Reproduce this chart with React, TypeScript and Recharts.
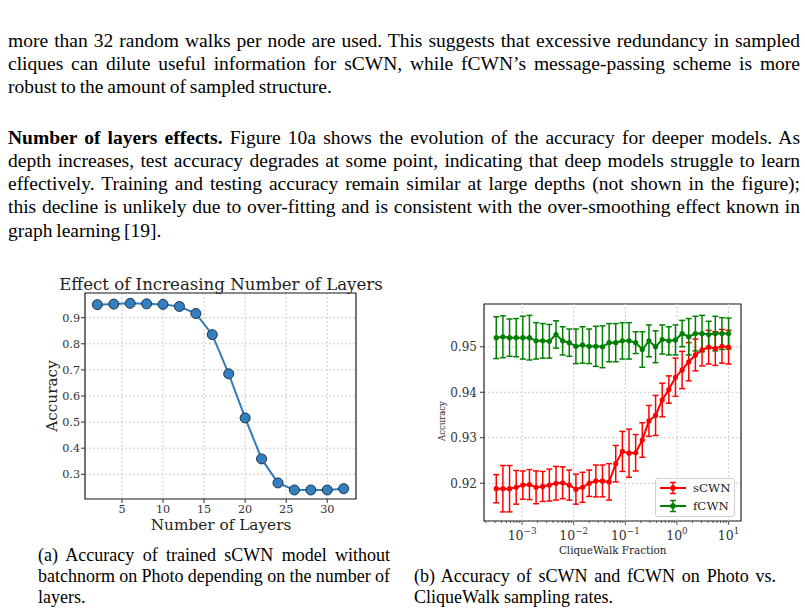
import { LineChart, Line, XAxis, YAxis, CartesianGrid, ErrorBar, ReferenceArea, ReferenceLine } from 'recharts';

// (a) accuracy vs number of layers
const layers = [2, 4, 6, 8, 10, 12, 14, 16, 18, 20, 22, 24, 26, 28, 30, 32];
const layerAcc = [0.950, 0.952, 0.955, 0.953, 0.951, 0.943, 0.916, 0.835, 0.685, 0.516, 0.359, 0.267, 0.240, 0.240, 0.240, 0.245];
const layerTicksX = [5, 10, 15, 20, 25, 30];
const layerTicksY = [0.3, 0.4, 0.5, 0.6, 0.7, 0.8, 0.9];

// (b) accuracy vs CliqueWalk fraction
const fractions = [
  0.0003162, 0.0004251, 0.0005715, 0.0007683, 0.001033, 0.001389, 0.001868, 0.002512, 0.003377,
  0.00454, 0.006105, 0.008209, 0.01104, 0.01484, 0.01995, 0.02683, 0.03607, 0.0485, 0.06521,
  0.08767, 0.1179, 0.1585, 0.2131, 0.2865, 0.3852, 0.5179, 0.6963, 0.9363, 1.259, 1.693, 2.276,
  3.06, 4.114, 5.532, 7.437, 10,
];
const sAcc = [
  0.9188, 0.9188, 0.9188, 0.9191, 0.9196, 0.9197, 0.9191, 0.9193, 0.9196, 0.92, 0.9201, 0.9196,
  0.9187, 0.9191, 0.92, 0.9205, 0.9205, 0.9203, 0.9243, 0.927, 0.9266, 0.9267, 0.9295, 0.9337,
  0.9349, 0.9383, 0.9406, 0.9433, 0.9449, 0.9467, 0.9482, 0.9493, 0.9499, 0.9496, 0.9501, 0.9499,
];
const sErr = [
  0.0031, 0.0051, 0.0051, 0.0037, 0.0031, 0.0033, 0.0036, 0.0033, 0.0035, 0.0037, 0.0035, 0.0033,
  0.0033, 0.0033, 0.0029, 0.0035, 0.0035, 0.004, 0.004, 0.0044, 0.0053, 0.004, 0.0038, 0.0034,
  0.0044, 0.0037, 0.003, 0.0042, 0.0041, 0.0042, 0.0035, 0.0035, 0.0037, 0.0037, 0.0037, 0.0037,
];
const fAcc = [
  0.952, 0.9522, 0.952, 0.952, 0.952, 0.952, 0.9513, 0.9513, 0.9512, 0.9527, 0.9513, 0.9509,
  0.9501, 0.9504, 0.9501, 0.9501, 0.95, 0.9509, 0.9509, 0.9513, 0.9513, 0.9509, 0.9494, 0.9513,
  0.95, 0.9516, 0.9513, 0.9515, 0.9529, 0.9522, 0.9529, 0.9529, 0.9527, 0.9529, 0.9529, 0.9529,
];
const fErr = [
  0.0046, 0.0046, 0.0041, 0.0042, 0.0047, 0.0049, 0.004, 0.0038, 0.0037, 0.003, 0.0031, 0.003,
  0.0038, 0.004, 0.0038, 0.0044, 0.0046, 0.0042, 0.0042, 0.004, 0.004, 0.0024, 0.0039, 0.0035,
  0.0035, 0.0032, 0.0031, 0.0033, 0.0029, 0.004, 0.0038, 0.004, 0.0029, 0.0038, 0.0035, 0.0034,
];
const fracMajor = [0.001, 0.01, 0.1, 1, 10];
const fracMinor = [
  0.0002, 0.0003, 0.0004, 0.0005, 0.0006, 0.0007, 0.0008, 0.0009,
  0.002, 0.003, 0.004, 0.005, 0.006, 0.007, 0.008, 0.009,
  0.02, 0.03, 0.04, 0.05, 0.06, 0.07, 0.08, 0.09,
  0.2, 0.3, 0.4, 0.5, 0.6, 0.7, 0.8, 0.9,
  2, 3, 4, 5, 6, 7, 8, 9,
];
const accTicks = [0.92, 0.93, 0.94, 0.95];

const layerRows = layers.map((l, i) => ({ layers: l, acc: layerAcc[i] }));
const fracRows = fractions.map((f, i) => ({ frac: f, s: sAcc[i], sErr: sErr[i], f: fAcc[i], fErr: fErr[i] }));

const mpl = '"DejaVu Serif", serif';
const times = '"Liberation Serif", "Times New Roman", serif';

const layerX: [number, number] = [0.5, 33.5];
const layerY: [number, number] = [0.2054, 0.9946];
const fracX: [number, number] = [0.000183, 17.4];
const fracY: [number, number] = [0.9117, 0.9594];

const para1 = [
  'more than 32 random walks per node are used. This suggests that excessive redundancy in sampled',
  'cliques can dilute useful information for sCWN, while fCWN’s message-passing scheme is more',
  'robust to the amount of sampled structure.',
];
const para2 = [
  'Figure 10a shows the evolution of the accuracy for deeper models. As',
  'depth increases, test accuracy degrades at some point, indicating that deep models struggle to learn',
  'effectively. Training and testing accuracy remain similar at large depths (not shown in the figure);',
  'this decline is unlikely due to over-fitting and is consistent with the over-smoothing effect known in',
  'graph learning [19].',
];
const capA = [
  '(a) Accuracy of trained sCWN model without',
  'batchnorm on Photo depending on the number of',
  'layers.',
];
const capB = ['(b) Accuracy of sCWN and fCWN on Photo vs.', 'CliqueWalk sampling rates.'];

const LogTick = (props: any) => {
  const { x, y, payload } = props;
  const v = payload.value;
  const e = Math.round(Math.log10(v));
  const major = Math.abs(Math.log10(v) - e) < 1e-6;
  return (
    <g>
      <line x1={x} x2={x} y1={y} y2={y + (major ? 4 : 2)} stroke="#333" strokeWidth={0.8} />
      {major && (
        <text x={x} y={y + 19} textAnchor="middle" fontSize={12.5} fontFamily={mpl} fill="#333">
          10
          <tspan dy={-6} fontSize={8.8}>{e < 0 ? '−' + -e : String(e)}</tspan>
        </text>
      )}
    </g>
  );
};

const lineStyle = (last: boolean, justify: boolean): any => ({
  whiteSpace: 'nowrap',
  textAlign: 'justify',
  textAlignLast: justify && !last ? 'justify' : 'left',
});

const Lines = ({ lines, top, left, width, size, lh, justifyAll, ws }: any) => (
  <div style={{ position: 'absolute', top, left, width, fontFamily: times, fontSize: size, lineHeight: lh + 'px', wordSpacing: ws, color: '#000' }}>
    {lines.map((t: any, i: number) => (
      <div key={i} style={{ ...lineStyle(i === lines.length - 1, justifyAll), height: lh }}>
        {t}
      </div>
    ))}
  </div>
);

const LegendItem = ({ color, label, top }: any) => (
  <div style={{ position: 'absolute', left: 3, top, height: 14, display: 'flex', alignItems: 'center' }}>
    <svg width={28} height={14}>
      <line x1={1} x2={27} y1={7} y2={7} stroke={color} strokeWidth={2} />
      <line x1={14} x2={14} y1={1.5} y2={12.5} stroke={color} strokeWidth={1.5} />
      <line x1={11} x2={17} y1={1.5} y2={1.5} stroke={color} strokeWidth={1.5} />
      <line x1={11} x2={17} y1={12.5} y2={12.5} stroke={color} strokeWidth={1.5} />
      <circle cx={14} cy={7} r={2.8} fill={color} />
    </svg>
    <span style={{ marginLeft: 6, fontFamily: mpl, fontSize: 11.8, color: '#222' }}>{label}</span>
  </div>
);

export default function App() {
  return (
    <div style={{ position: 'absolute', left: 0, top: 0, width: 805, height: 614, background: '#fff', overflow: 'hidden' }}>
      <Lines lines={para1} top={28.5} left={8} width={792} size={19.5} lh={23.33} justifyAll ws="-1px" />
      <div style={{ position: 'absolute', top: 125.5, left: 8, width: 792, fontFamily: times, fontSize: 19.5, lineHeight: '23.33px', wordSpacing: '-1px' }}>
        <div style={{ ...lineStyle(false, true), height: 23.33 }}>
          <b>Number of layers effects.</b> {para2[0]}
        </div>
        {para2.slice(1).map((t, i) => (
          <div key={i} style={{ ...lineStyle(i === para2.length - 2, true), height: 23.33 }}>
            {t}
          </div>
        ))}
      </div>

      {/* (a) */}
      <div style={{ position: 'absolute', left: 221, top: 284, transform: 'translate(-50%, -50%)', fontFamily: mpl, fontSize: 16.6, whiteSpace: 'nowrap', color: '#222' }}>
        Effect of Increasing Number of Layers
      </div>
      <div style={{ position: 'absolute', left: 52, top: 396, transform: 'translate(-50%, -50%) rotate(-90deg)', fontFamily: mpl, fontSize: 15.3, whiteSpace: 'nowrap', color: '#222' }}>
        Accuracy
      </div>
      <div style={{ position: 'absolute', left: 221, top: 525, transform: 'translate(-50%, -50%)', fontFamily: mpl, fontSize: 15.3, whiteSpace: 'nowrap', color: '#222' }}>
        Number of Layers
      </div>
      <div style={{ position: 'absolute', left: 0, top: 270 }}>
        <LineChart width={400} height={290} data={layerRows} margin={{ top: 23, right: 44, bottom: 0, left: 0 }}>
          <CartesianGrid stroke="#cdcdcd" strokeDasharray="2 2" />
          <XAxis
            dataKey="layers"
            type="number"
            domain={layerX}
            ticks={layerTicksX}
            allowDataOverflow
            axisLine={false}
            tickLine={{ stroke: '#333' }}
            tickSize={4}
            tickMargin={2}
            height={61}
            tick={{ fontSize: 11.2, fill: '#333', fontFamily: mpl }}
          />
          <YAxis
            type="number"
            domain={layerY}
            ticks={layerTicksY}
            allowDataOverflow
            tickFormatter={(v: number) => v.toFixed(1)}
            axisLine={false}
            tickLine={{ stroke: '#333' }}
            tickSize={4}
            tickMargin={1}
            width={85}
            tick={{ fontSize: 11.2, fill: '#333', fontFamily: mpl }}
          />
          <Line
            dataKey="acc"
            type="linear"
            stroke="#2f7dbd"
            strokeWidth={2}
            dot={{ r: 5, fill: '#3480bf', stroke: '#1e324a', strokeWidth: 1 }}
            isAnimationActive={false}
          />
          <ReferenceArea x1={layerX[0]} x2={layerX[1]} y1={layerY[0]} y2={layerY[1]} fill="none" stroke="#222" strokeWidth={1.2} ifOverflow="visible" />
        </LineChart>
      </div>

      {/* (b) */}
      <div style={{ position: 'absolute', left: 441.7, top: 421, transform: 'translate(-50%, -50%) rotate(-90deg)', fontFamily: mpl, fontSize: 8.5, whiteSpace: 'nowrap', color: '#222' }}>
        Accuracy
      </div>
      <div style={{ position: 'absolute', left: 612.7, top: 549.5, transform: 'translate(-50%, -50%)', fontFamily: mpl, fontSize: 10.4, whiteSpace: 'nowrap', color: '#222' }}>
        CliqueWalk Fraction
      </div>
      <div style={{ position: 'absolute', left: 420, top: 290 }}>
        <LineChart width={380} height={270} data={fracRows} margin={{ top: 14, right: 59, bottom: 0, left: 0 }}>
          <CartesianGrid stroke="#cdcdcd" strokeDasharray="2 2" vertical={false} />
          {fracMajor.map((v) => (
            <ReferenceLine key={v} x={v} stroke="#cdcdcd" strokeDasharray="2 2" />
          ))}
          <XAxis
            dataKey="frac"
            type="number"
            scale="log"
            domain={fracX}
            ticks={[...fracMajor, ...fracMinor]}
            allowDataOverflow
            axisLine={false}
            tickLine={false}
            tickSize={0}
            tickMargin={0}
            height={39}
            interval={0}
            tick={<LogTick />}
          />
          <YAxis
            type="number"
            domain={fracY}
            ticks={accTicks}
            allowDataOverflow
            tickFormatter={(v: number) => v.toFixed(2)}
            axisLine={false}
            tickLine={{ stroke: '#333' }}
            tickSize={4}
            tickMargin={3}
            width={64}
            tick={{ fontSize: 12, fill: '#333', fontFamily: mpl }}
          />
          <Line dataKey="s" type="linear" stroke="#ff0000" strokeWidth={2} dot={{ r: 2.6, fill: '#ff0000', stroke: 'none' }} isAnimationActive={false}>
            <ErrorBar dataKey="sErr" direction="y" width={3} stroke="#ff0000" strokeWidth={1.5} />
          </Line>
          <Line dataKey="f" type="linear" stroke="#008000" strokeWidth={2} dot={{ r: 2.6, fill: '#008000', stroke: 'none' }} isAnimationActive={false}>
            <ErrorBar dataKey="fErr" direction="y" width={3} stroke="#008000" strokeWidth={1.5} />
          </Line>
          <ReferenceArea x1={fracX[0]} x2={fracX[1]} y1={fracY[0]} y2={fracY[1]} fill="none" stroke="#222" strokeWidth={1.2} ifOverflow="visible" />
        </LineChart>
      </div>
      <div style={{ position: 'absolute', left: 655, top: 478, width: 80, height: 39, border: '1px solid #d0d0d0', borderRadius: 3, background: 'rgba(255,255,255,0.85)', boxSizing: 'border-box' }}>
        <LegendItem color="#ff0000" label="sCWN" top={2} />
        <LegendItem color="#008000" label="fCWN" top={20} />
      </div>

      <Lines lines={capA} top={545} left={38} width={352} size={18} lh={21.2} justifyAll ws="-0.5px" />
      <Lines lines={capB} top={566.2} left={414} width={362} size={18} lh={21.2} justifyAll />
    </div>
  );
}
